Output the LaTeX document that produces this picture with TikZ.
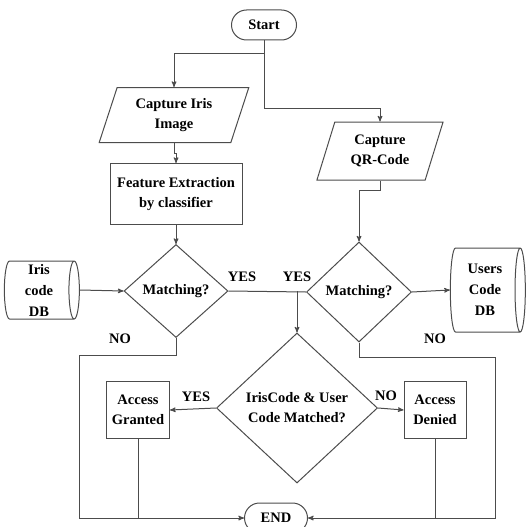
\documentclass[tikz,border=0pt]{standalone}
\usepackage{fontspec}
\setmainfont{Liberation Serif}
\usetikzlibrary{arrows,shapes.geometric,shapes.misc}

\begin{document}
\begin{tikzpicture}[->,>=stealth',x=1pt,y=-1pt,line width=1pt,draw=black!70,
                    font=\fontsize{14.5}{20}\selectfont\bfseries]
  \tikzstyle{box}=[draw=black!70,text=black,align=center,inner sep=0pt]
  \tikzstyle{term}=[box,rounded rectangle]
  \tikzstyle{io}=[box,trapezium,trapezium left angle=70,trapezium right angle=110,
                  trapezium stretches=true]
  \tikzstyle{proc}=[box,rectangle]
  \tikzstyle{dec}=[box,diamond]
  \tikzstyle{db}=[box,cylinder,aspect=0.2,
                  font=\fontsize{14.5}{21}\selectfont\bfseries]
  \tikzstyle{lbl}=[text=black,inner sep=0pt]

  \useasboundingbox (0,0) rectangle (527,527);

  \node[term,minimum width=65,minimum height=30]  (start)   at (264,25)  {Start};
  \node[io,minimum width=150,minimum height=55]   (iris)    at (174,115) {Capture Iris\\Image};
  \node[io,minimum width=127,minimum height=58]   (qr)      at (380,151) {Capture\\QR-Code};
  \node[proc,minimum width=132,minimum height=61] (feat)    at (176,194) {Feature Extraction\\by classifier};
  \node[dec,minimum width=104,minimum height=93]  (m1)      at (176,291) {Matching?};
  \node[dec,minimum width=105,minimum height=100] (m2)      at (359,292) {Matching?};
  \node[db,minimum width=58,minimum height=75]    (irisdb)  at (39,290)  {Iris\\code\\DB};
  \node[db,minimum width=84,minimum height=75]    (userdb)  at (485,290) {Users\\Code\\DB};
  \node[dec,minimum width=161,minimum height=150] (cmp)     at (297,408) {IrisCode \& User\\Code Matched?};
  \node[proc,minimum width=63,minimum height=57]  (granted) at (138,410) {Access\\Granted};
  \node[proc,minimum width=62,minimum height=57]  (denied)  at (435,410) {Access\\Denied};
  \node[term,minimum width=63,minimum height=30]  (end)     at (276,518) {END};

  \node[lbl] (yes1) at (242,277) {YES};
  \node[lbl] (yes2) at (297,277) {YES};
  \node[lbl] (no1)  at (120,339) {NO};
  \node[lbl] (no2)  at (435,339) {NO};
  \node[lbl] (yes3) at (196,397) {YES};
  \node[lbl] (no3)  at (386,396) {NO};

  \draw (start.south) -- ++(0,13) -| (iris.north);
  \draw (start.south) -- ++(0,68) -| (qr.north);
  \draw (iris.south) -- ++(0,10) -| (feat.north);
  \draw (feat.south) -- (m1.north);
  \draw (irisdb.east) -- (m1.west);
  \draw[-] (m1.east) -- (m2.west);
  \draw (cmp.north |- m1.east) -- (cmp.north);
  \draw (qr.south) -- ++(0,10) -| (m2.north);
  \draw (m2.east) -- (userdb.west);
  \draw (m1.south) -- ++(0,17) -- ++(-97,0) |- (end.west);
  \draw (m2.south) -- ++(0,15) -- ++(136,0) |- (end.east);
  \draw[-] (granted.south) -- (granted.south |- end.west);
  \draw[-] (denied.south) -- (denied.south |- end.east);
  \draw (cmp.west) -- (granted.east);
  \draw (cmp.east) -- (denied.west);
\end{tikzpicture}
\end{document}
